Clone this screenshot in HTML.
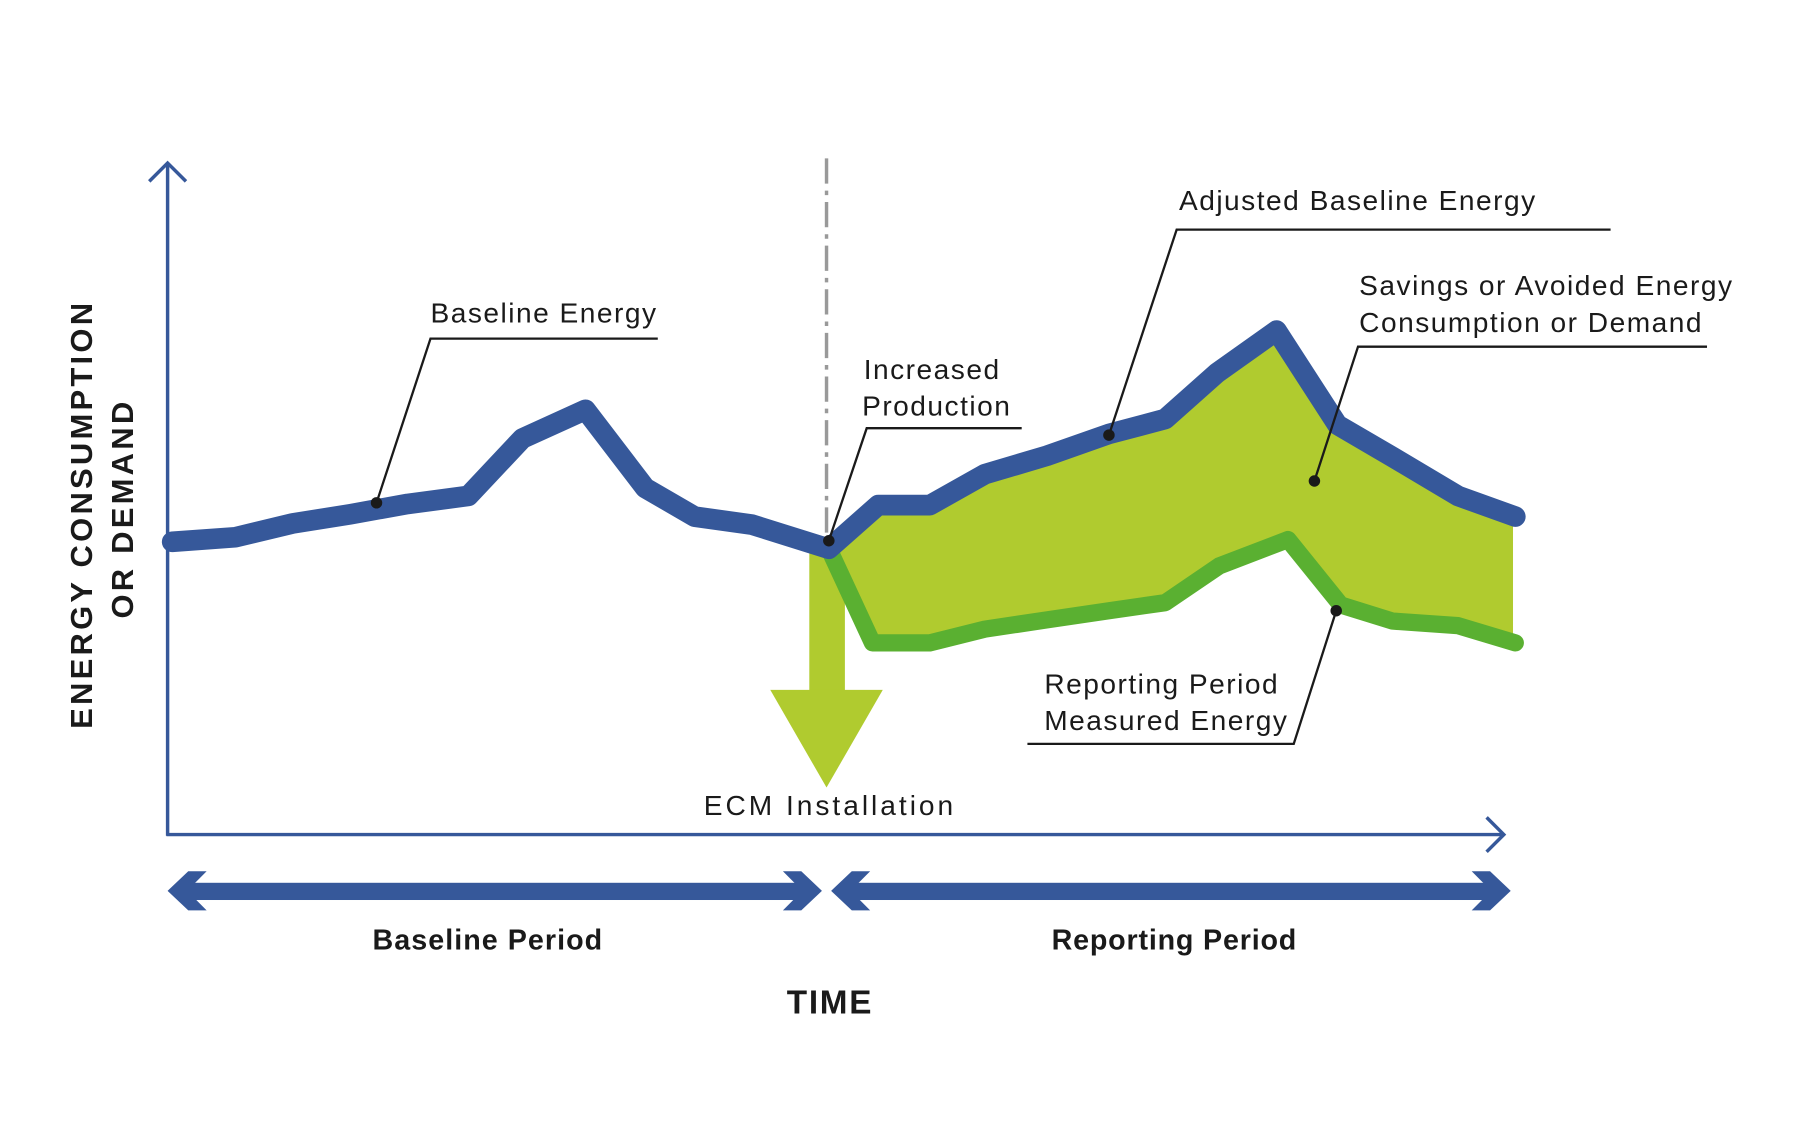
<!DOCTYPE html>
<html><head><meta charset="utf-8"><style>
html,body{margin:0;padding:0;background:#fff;width:1800px;height:1121px;overflow:hidden}
svg{display:block}
text{font-family:"Liberation Sans",Arial,sans-serif;fill:#1a1a1a}
</style></head><body>
<svg width="1800" height="1121" viewBox="0 0 1568 976.5" xmlns="http://www.w3.org/2000/svg">
<!-- axes -->
<g stroke="#36589a" stroke-width="3" fill="none">
<line x1="146" y1="142" x2="146" y2="728"/>
<polyline points="130,158 146,142 162,158"/>
<line x1="145" y1="727" x2="1309" y2="727"/>
<polyline points="1295,712 1310,727 1295,742"/>
</g>
<!-- dashed ECM line -->
<line x1="720" y1="138" x2="720" y2="468" stroke="#999" stroke-width="3" stroke-dasharray="22,6,4,6"/>
<!-- savings fill -->
<polygon fill="#b0cb2f" points="722,472 765,440 810,440 858,413 912,397 966,378 1015,365 1060,325 1112,288 1165,370 1213,398 1270,432 1318,450 1318,560 1270,545 1213,541 1168,527 1122,470 1062,493 1015,525 966,532 912,540 858,548 810,560 760,560 722,478"/>
<!-- green arrow -->
<rect x="705" y="478" width="31" height="125" fill="#b0cb2f"/>
<polygon fill="#b0cb2f" points="671,601 769,601 720,686"/>
<!-- measured line -->
<polyline fill="none" stroke="#5ab031" stroke-width="15" stroke-linejoin="round" stroke-linecap="round" points="722,478 760,560 810,560 858,548 912,540 966,532 1015,525 1062,493 1122,470 1168,527 1213,541 1270,545 1320,560"/>
<!-- baseline line -->
<polyline fill="none" stroke="#36589a" stroke-width="18" stroke-linejoin="round" stroke-linecap="round" points="150,472 205,468 255,456 305,448 355,439 408,432 455,382 510,357 562,425 605,450 655,457 722,478 765,440 810,440 858,413 912,397 966,378 1015,365 1060,325 1112,288 1165,370 1213,398 1270,432 1320,450"/>
<!-- leaders -->
<g stroke="#1a1a1a" stroke-width="2" fill="none">
<polyline points="328,438 375,295 573,295"/>
<polyline points="722,471 755,373 890,373"/>
<polyline points="966,379 1025,200 1403,200"/>
<polyline points="1145,419 1183,302 1487,302"/>
<polyline points="1164,532 1127,648 895,648"/>
</g>
<g fill="#1a1a1a">
<circle cx="328" cy="438" r="5"/><circle cx="722" cy="471" r="5"/><circle cx="966" cy="379" r="5"/><circle cx="1145" cy="419" r="5"/><circle cx="1164" cy="532" r="5"/>
</g>
<!-- period arrows -->
<g fill="#36589a">
<rect x="165" y="769" width="535" height="15"/>
<polygon points="146,776 164,759 180,759 167,772 167,780 180,793 164,793"/>
<polygon points="716,776 698,759 682,759 695,772 695,780 682,793 698,793"/>
<rect x="742" y="769" width="556" height="15"/>
<polygon points="724,776 742,759 758,759 745,772 745,780 758,793 742,793"/>
<polygon points="1316,776 1298,759 1282,759 1295,772 1295,780 1282,793 1298,793"/>
</g>
<!-- labels -->
<g font-size="24.5" letter-spacing="1.3">
<text x="375" y="281">Baseline Energy</text>
<text x="812" y="330" text-anchor="middle">Increased</text>
<text x="816" y="362" text-anchor="middle">Production</text>
<text x="1027" y="183">Adjusted Baseline Energy</text>
<text x="1184" y="257">Savings or Avoided Energy</text>
<text x="1184" y="289">Consumption or Demand</text>
<text x="1012" y="604" text-anchor="middle">Reporting Period</text>
<text x="1016" y="636" text-anchor="middle">Measured Energy</text>
<text x="723" y="710" text-anchor="middle" letter-spacing="2.6">ECM Installation</text>
</g>
<g font-weight="bold">
<text x="425" y="827" font-size="25" text-anchor="middle" letter-spacing="0.9">Baseline Period</text>
<text x="1023" y="827" font-size="25" text-anchor="middle" letter-spacing="0.7">Reporting Period</text>
<text x="723" y="883" font-size="29" text-anchor="middle" letter-spacing="1.5">TIME</text>
<text transform="translate(80,448) rotate(-90)" font-size="27" text-anchor="middle" letter-spacing="2.8">ENERGY CONSUMPTION</text>
<text transform="translate(116,443) rotate(-90)" font-size="27" text-anchor="middle" letter-spacing="2.8">OR DEMAND</text>
</g>
</svg>
</body></html>
